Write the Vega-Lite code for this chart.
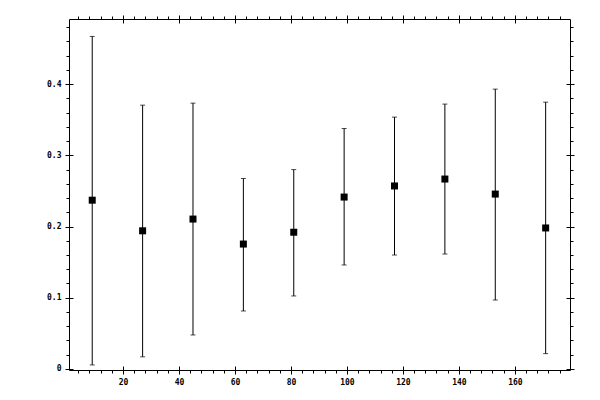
{
  "$schema": "https://vega.github.io/schema/vega-lite/v6.json",
  "width": 501,
  "height": 351,
  "autosize": {"type": "none"},
  "padding": {"left": 69, "top": 19, "right": 30, "bottom": 30},
  "background": "white",
  "data": {
    "values": [
      {"x": 9, "mid": 0.237, "lo": 0.0056, "hi": 0.467},
      {"x": 27, "mid": 0.194, "lo": 0.017, "hi": 0.3705},
      {"x": 45, "mid": 0.2105, "lo": 0.0477, "hi": 0.3733},
      {"x": 63, "mid": 0.1754, "lo": 0.0814, "hi": 0.2675},
      {"x": 81, "mid": 0.192, "lo": 0.1025, "hi": 0.28},
      {"x": 99, "mid": 0.2414, "lo": 0.146, "hi": 0.3377},
      {"x": 117, "mid": 0.257, "lo": 0.16, "hi": 0.3537},
      {"x": 135, "mid": 0.2667, "lo": 0.1614, "hi": 0.372},
      {"x": 153, "mid": 0.2456, "lo": 0.0968, "hi": 0.393},
      {"x": 171, "mid": 0.198, "lo": 0.0215, "hi": 0.3747}
    ]
  },
  "resolve": {"axis": {"x": "independent", "y": "independent"}},
  "layer": [
    {
      "mark": {"type": "rule", "color": "black", "strokeWidth": 1},
      "encoding": {
        "x": {
          "field": "x", "type": "quantitative",
          "scale": {"domain": [0.7, 179.7], "nice": false, "zero": false},
          "axis": {"orient": "bottom", "title": null, "values": [20, 40, 60, 80, 100, 120, 140, 160], "tickSize": 4, "labelPadding": 4}
        },
        "y": {
          "field": "lo", "type": "quantitative",
          "scale": {"domain": [-0.0015, 0.4915], "nice": false, "zero": false},
          "axis": {"orient": "left", "title": null, "values": [0, 0.1, 0.2, 0.3, 0.4], "format": "~g", "tickSize": 4, "labelPadding": 4}
        },
        "y2": {"field": "hi"}
      }
    },
    {
      "mark": {"type": "tick", "orient": "horizontal", "color": "black", "size": 5, "thickness": 1},
      "encoding": {
        "x": {
          "field": "x", "type": "quantitative",
          "axis": {"orient": "bottom", "title": null, "labels": false, "values": [20, 40, 60, 80, 100, 120, 140, 160], "tickSize": -4}
        },
        "y": {
          "field": "hi", "type": "quantitative",
          "axis": {"orient": "left", "title": null, "labels": false, "values": [0, 0.1, 0.2, 0.3, 0.4], "tickSize": -4}
        }
      }
    },
    {
      "mark": {"type": "tick", "orient": "horizontal", "color": "black", "size": 5, "thickness": 1},
      "encoding": {
        "x": {
          "field": "x", "type": "quantitative",
          "axis": {"orient": "bottom", "title": null, "labels": false, "values": [4, 8, 12, 16, 24, 28, 32, 36, 44, 48, 52, 56, 64, 68, 72, 76, 84, 88, 92, 96, 104, 108, 112, 116, 124, 128, 132, 136, 144, 148, 152, 156, 164, 168, 172, 176], "tickSize": 3}
        },
        "y": {
          "field": "lo", "type": "quantitative",
          "axis": {"orient": "left", "title": null, "labels": false, "values": [0.02, 0.04, 0.06, 0.08, 0.12, 0.14, 0.16, 0.18, 0.22, 0.24, 0.26, 0.28, 0.32, 0.34, 0.36, 0.38, 0.42, 0.44, 0.46, 0.48], "tickSize": 3}
        }
      }
    },
    {
      "mark": {"type": "square", "color": "black", "filled": true, "opacity": 1, "size": 49},
      "encoding": {
        "x": {
          "field": "x", "type": "quantitative",
          "axis": {"orient": "top", "title": null, "labels": false, "values": [20, 40, 60, 80, 100, 120, 140, 160], "tickSize": 4}
        },
        "y": {
          "field": "mid", "type": "quantitative",
          "axis": {"orient": "right", "title": null, "labels": false, "values": [0, 0.1, 0.2, 0.3, 0.4], "tickSize": 4}
        }
      }
    },
    {
      "mark": {"type": "point", "opacity": 0},
      "encoding": {
        "x": {
          "field": "x", "type": "quantitative",
          "axis": {"orient": "top", "title": null, "labels": false, "values": [20, 40, 60, 80, 100, 120, 140, 160], "tickSize": -4}
        },
        "y": {
          "field": "mid", "type": "quantitative",
          "axis": {"orient": "right", "title": null, "labels": false, "values": [0, 0.1, 0.2, 0.3, 0.4], "tickSize": -4}
        }
      }
    },
    {
      "mark": {"type": "point", "opacity": 0},
      "encoding": {
        "x": {
          "field": "x", "type": "quantitative",
          "axis": {"orient": "top", "title": null, "labels": false, "values": [4, 8, 12, 16, 24, 28, 32, 36, 44, 48, 52, 56, 64, 68, 72, 76, 84, 88, 92, 96, 104, 108, 112, 116, 124, 128, 132, 136, 144, 148, 152, 156, 164, 168, 172, 176], "tickSize": 3}
        },
        "y": {
          "field": "mid", "type": "quantitative",
          "axis": {"orient": "right", "title": null, "labels": false, "values": [0.02, 0.04, 0.06, 0.08, 0.12, 0.14, 0.16, 0.18, 0.22, 0.24, 0.26, 0.28, 0.32, 0.34, 0.36, 0.38, 0.42, 0.44, 0.46, 0.48], "tickSize": 3}
        }
      }
    }
  ],
  "config": {
    "view": {"stroke": "black", "strokeWidth": 1},
    "axis": {
      "domain": false,
      "grid": false,
      "tickColor": "black",
      "tickWidth": 1,
      "labelColor": "black",
      "labelFont": "DejaVu Sans Mono",
      "labelFontSize": 8,
      "labelFontWeight": "bold"
    }
  }
}
